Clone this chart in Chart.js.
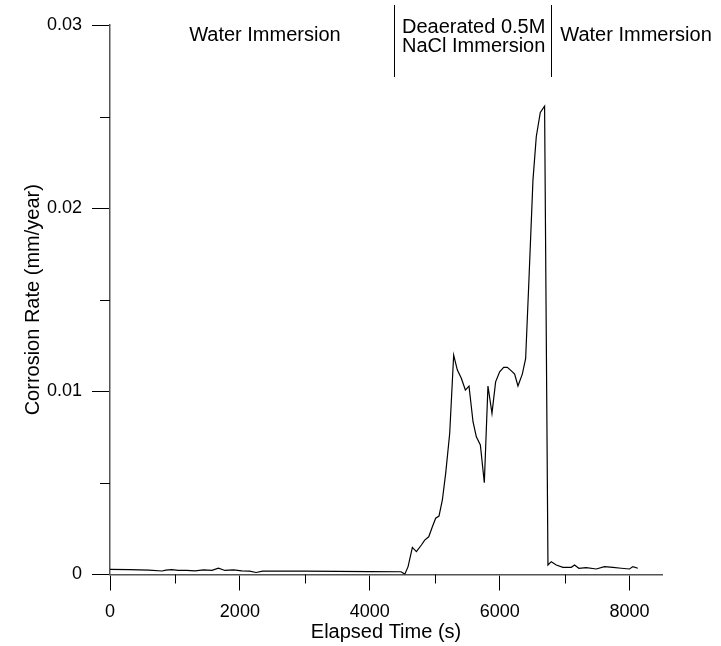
<!DOCTYPE html>
<html>
<head>
<meta charset="utf-8">
<script src="https://cdn.jsdelivr.net/npm/chart.js@4"></script>
<style>
  body { margin: 0; background: #fff; }
</style>
</head>
<body>
<canvas id="rateChart" width="721" height="646"></canvas>
<script>
// elapsed time (s) and corrosion rate (mm/year)
const times = [
  0, 300, 600, 800, 860, 950, 1050, 1180, 1310, 1440, 1570, 1670, 1770, 1900,
  2030, 2150, 2250, 2350, 2480, 3000, 3500, 4000, 4480, 4540, 4590, 4656, 4718,
  4795, 4846, 4908, 4964, 5015, 5066, 5118, 5169, 5231, 5292, 5349, 5410, 5472,
  5528, 5590, 5641, 5703, 5764, 5820, 5882, 5938, 6000, 6062, 6118, 6180, 6231,
  6282, 6349, 6400, 6451, 6513, 6564, 6626, 6692, 6744, 6795, 6872, 6974, 7103,
  7154, 7220, 7333, 7487, 7615, 7744, 7872, 8000, 8051, 8128
];
const rates = [
  0.00028, 0.00027, 0.00024, 0.00019, 0.00024, 0.00027, 0.00023, 0.00022, 0.00020,
  0.00025, 0.00023, 0.00035, 0.00022, 0.00025, 0.00020, 0.00018, 0.00011, 0.00018,
  0.00019, 0.00018, 0.00017, 0.00016, 0.00015, 0.00002, 0.00043, 0.00148, 0.00125,
  0.00161, 0.00188, 0.00206, 0.00261, 0.00307, 0.00319, 0.00407, 0.00552, 0.00771,
  0.01198, 0.01116, 0.01071, 0.01007, 0.01029, 0.00834, 0.00752, 0.00707, 0.00501,
  0.01029, 0.00880, 0.01052, 0.01107, 0.01131, 0.01131, 0.01112, 0.01094, 0.01029,
  0.01094, 0.01178, 0.01608, 0.02153, 0.02390, 0.02523, 0.02557, 0.00052, 0.00070,
  0.00052, 0.00039, 0.00039, 0.00052, 0.00034, 0.00037, 0.00030, 0.00043, 0.00039,
  0.00034, 0.00030, 0.00043, 0.00034
];

const xTicks = [0, 2000, 4000, 6000, 8000];
const yTicks = [0, 0.01, 0.02, 0.03];
const xMinorTicks = [1000, 3000, 5000, 7000];
const yMinorTicks = [0.005, 0.015, 0.025];

// phase boundaries (s) and the labels written above the plot
const phaseBounds = [4377, 6785];
const phaseLabels = [
  { lines: ['Water Immersion'], at: 2385 },
  { lines: ['Deaerated 0.5M', 'NaCl Immersion'], at: 5600 },
  { lines: ['Water Immersion'], at: 8100 }
];

Chart.defaults.font.family = '"Liberation Sans", Arial, sans-serif';
Chart.defaults.color = '#000';

const extras = {
  id: 'extras',
  afterDraw(chart) {
    const { ctx, chartArea, scales: { x, y } } = chart;
    ctx.save();
    ctx.strokeStyle = '#000';
    ctx.lineWidth = 1;
    ctx.beginPath();
    xMinorTicks.forEach(v => {
      const px = Math.round(x.getPixelForValue(v)) + 0.5;
      ctx.moveTo(px, chartArea.bottom);
      ctx.lineTo(px, chartArea.bottom + 9);
    });
    yMinorTicks.forEach(v => {
      const py = Math.round(y.getPixelForValue(v)) + 0.5;
      ctx.moveTo(chartArea.left, py);
      ctx.lineTo(chartArea.left - 10, py);
    });
    phaseBounds.forEach(v => {
      const px = Math.round(x.getPixelForValue(v)) + 0.5;
      ctx.moveTo(px, 5);
      ctx.lineTo(px, 77);
    });
    ctx.stroke();

    ctx.font = '20px "Liberation Sans", Arial, sans-serif';
    ctx.fillStyle = '#000';
    ctx.textAlign = 'center';
    ctx.textBaseline = 'alphabetic';
    phaseLabels.forEach(p => {
      const px = x.getPixelForValue(p.at);
      if (p.lines.length === 1) {
        ctx.fillText(p.lines[0], px, 41);
      } else {
        ctx.fillText(p.lines[0], px, 33);
        ctx.fillText(p.lines[1], px, 52);
      }
    });
    ctx.restore();
  }
};

new Chart(document.getElementById('rateChart').getContext('2d'), {
  type: 'scatter',
  data: {
    datasets: [{
      label: 'Corrosion Rate',
      data: times.map((t, i) => ({ x: t, y: rates[i] })),
      showLine: true,
      borderColor: '#000',
      borderWidth: 1.2,
      pointRadius: 0,
      tension: 0
    }]
  },
  options: {
    responsive: false,
    animation: false,
    layout: { padding: { top: 25, right: 59, left: 0, bottom: 0 } },
    plugins: {
      legend: { display: false },
      tooltip: { enabled: false }
    },
    scales: {
      x: {
        type: 'linear',
        min: 0,
        max: 8500,
        afterBuildTicks: (scale) => { scale.ticks = xTicks.map(v => ({ value: v })); },
        afterFit: (scale) => { scale.height = 71.5; },
        border: { display: true, color: '#555', width: 1.5 },
        grid: { drawOnChartArea: false, tickLength: 16, tickColor: '#000', tickWidth: 1 },
        ticks: {
          padding: 11,
          maxRotation: 0,
          autoSkip: false,
          font: { size: 18 },
          callback: (v) => String(v)
        },
        title: {
          display: true,
          text: 'Elapsed Time (s)',
          font: { size: 20 },
          padding: { top: 0, bottom: 2 }
        }
      },
      y: {
        min: 0,
        max: 0.03,
        afterBuildTicks: (scale) => { scale.ticks = yTicks.map(v => ({ value: v })); },
        afterFit: (scale) => { scale.width = 110; },
        border: { display: true, color: '#555', width: 1.5 },
        grid: { drawOnChartArea: false, tickLength: 18, tickColor: '#000', tickWidth: 1 },
        ticks: {
          padding: 10,
          autoSkip: false,
          font: { size: 18 },
          callback: (v) => v === 0 ? '0' : v.toFixed(2)
        },
        title: {
          display: true,
          text: 'Corrosion Rate (mm/year)',
          font: { size: 20 },
          padding: { top: 21, bottom: 0 }
        }
      }
    }
  },
  plugins: [extras]
});
</script>
</body>
</html>
